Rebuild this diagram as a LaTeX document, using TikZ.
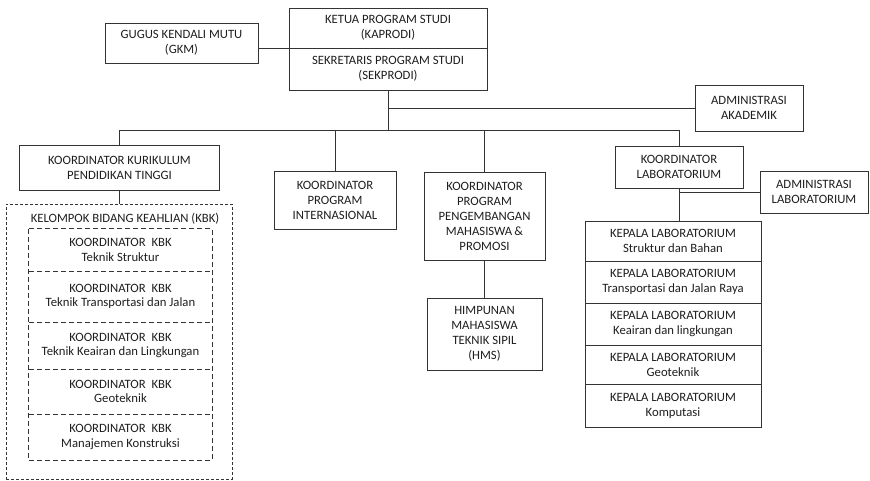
\documentclass[tikz,border=0pt]{standalone}
\usepackage{fontspec}
\setmainfont{Carlito}
\usetikzlibrary{calc}
\definecolor{linec}{HTML}{333333}
\definecolor{txtc}{HTML}{1E1E1E}
\tikzset{
  base/.style={align=center, text=txtc, inner sep=0pt, font=\fontsize{12.7}{15}\selectfont},
  box/.style={base, draw=linec, line width=0.9pt},
  cell/.style={base, font=\fontsize{12.7}{14.5}\selectfont},
  conn/.style={draw=linec, line width=1pt},
  outerdash/.style={draw=linec, line width=0.8pt, dash pattern=on 3pt off 2pt},
  innerdash/.style={draw=linec, line width=1.1pt, dash pattern=on 5pt off 3pt},
}
\begin{document}
\begin{tikzpicture}[x=1pt,y=-1pt]
\useasboundingbox (0,0) rectangle (870,480);
% top
\node[box, minimum width=198, minimum height=40] (kap) at (388,28) {KETUA PROGRAM STUDI\\(KAPRODI)};
\node[box, minimum width=198, minimum height=42] (sek) at (388,69) {SEKRETARIS PROGRAM STUDI\\(SEKPRODI)};
\node[box, minimum width=153, minimum height=40] (gkm) at (181.5,43) {GUGUS KENDALI MUTU\\(GKM)};
\node[box, minimum width=108, minimum height=46] (admak) at (749,108) {ADMINISTRASI\\AKADEMIK};
% level 2
\node[box, minimum width=200, minimum height=45] (kkpt) at (119.5,167.5) {KOORDINATOR KURIKULUM\\PENDIDIKAN TINGGI};
\node[box, minimum width=122, minimum height=58] (pi) at (335,200) {KOORDINATOR\\PROGRAM\\INTERNASIONAL};
\node[box, minimum width=121, minimum height=88] (ppm) at (484.5,216) {KOORDINATOR\\PROGRAM\\PENGEMBANGAN\\MAHASISWA\,\&\\PROMOSI};
\node[box, minimum width=115, minimum height=72] (hms) at (484.5,334) {HIMPUNAN\\MAHASISWA\\TEKNIK SIPIL\\(HMS)};
\node[box, minimum width=128, minimum height=42] (klab) at (679,167) {KOORDINATOR\\LABORATORIUM};
\node[box, minimum width=108, minimum height=42] (admlab) at (814,192) {ADMINISTRASI\\LABORATORIUM};
% KBK group
\node[outerdash, minimum width=226, minimum height=275, inner sep=0pt] (kbk) at (119,341.5) {};
\node[base] (kbkt) at (125,219) {KELOMPOK BIDANG KEAHLIAN (KBK)};
\node[cell, minimum width=183, minimum height=42] (k1) at (120.5,250) {KOORDINATOR~~KBK\\Teknik Struktur};
\node[cell, minimum width=183, minimum height=51] (k2) at (120.5,296.5) {KOORDINATOR~~KBK\\Teknik Transportasi dan Jalan};
\node[cell, minimum width=183, minimum height=47] (k3) at (120.5,345.5) {KOORDINATOR~~KBK\\Teknik Keairan dan Lingkungan};
\node[cell, minimum width=183, minimum height=45] (k4) at (120.5,391.5) {KOORDINATOR~~KBK\\Geoteknik};
\node[cell, minimum width=183, minimum height=46] (k5) at (120.5,437) {KOORDINATOR~~KBK\\Manajemen Konstruksi};
\draw[innerdash] (k1.north west) rectangle (k5.south east);
\draw[innerdash] (k1.south west) -- (k1.south east);
\draw[innerdash] (k2.south west) -- (k2.south east);
\draw[innerdash] (k3.south west) -- (k3.south east);
\draw[innerdash] (k4.south west) -- (k4.south east);
% Lab stack
\node[box, minimum width=176, minimum height=40] (l1) at (673,241) {KEPALA LABORATORIUM\\Struktur dan Bahan};
\node[box, minimum width=176, minimum height=42] (l2) at (673,282) {KEPALA LABORATORIUM\\Transportasi dan Jalan Raya};
\node[box, minimum width=176, minimum height=42] (l3) at (673,324) {KEPALA LABORATORIUM\\Keairan dan lingkungan};
\node[box, minimum width=176, minimum height=39] (l4) at (673,364.5) {KEPALA LABORATORIUM\\Geoteknik};
\node[box, minimum width=176, minimum height=43] (l5) at (673,405.5) {KEPALA LABORATORIUM\\Komputasi};
% connectors
\coordinate (busL) at (119,130);
\draw[conn] (gkm.east |- kap.south) -- (kap.south west);
\draw[conn] (sek.south) -- (sek.south |- busL);
\draw[conn] (sek.south |- admak.west) -- (admak.west);
\draw[conn] (busL) -- (busL -| klab.north);
\draw[conn] (kkpt.north) -- (kkpt.north |- busL);
\draw[conn] (pi.north) -- (pi.north |- busL);
\draw[conn] (ppm.north) -- (ppm.north |- busL);
\draw[conn] (klab.north) -- (klab.north |- busL);
\draw[conn] (kkpt.south) -- (kkpt.south |- kbk.north);
\draw[conn] (ppm.south) -- (hms.north);
\draw[conn] (klab.south) -- (klab.south |- l1.north);
\draw[conn] (klab.south |- admlab.west) -- (admlab.west);
\end{tikzpicture}
\end{document}
